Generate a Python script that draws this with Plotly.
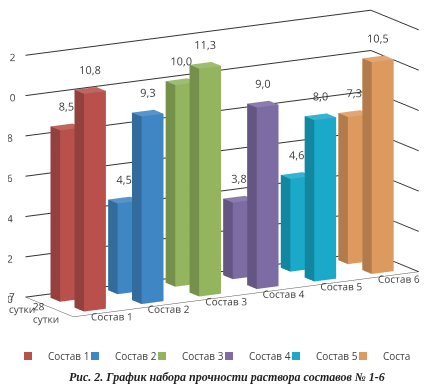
import plotly.graph_objects as go

categories = ["Состав 1", "Состав 2", "Состав 3", "Состав 4", "Состав 5", "Состав 6"]
depth_labels = ["28<br>сутки", "7<br>сутки"]
day7 = [8.5, 4.5, 10.0, 3.8, 4.6, 7.3]
day28 = [10.8, 9.3, 11.3, 9.0, 8.0, 10.5]
colors = ["#B9504C", "#3F86C4", "#92B55E", "#7D6BA4", "#1AA9C9", "#DE9A5E"]
value_ticks = [0, 2, 4, 6, 8, 10, 12]


def shade(hexc, f):
    r, g, b = int(hexc[1:3], 16), int(hexc[3:5], 16), int(hexc[5:7], 16)
    if f < 1:
        r, g, b = int(r * f), int(g * f), int(b * f)
    else:
        r, g, b = [int(c + (255 - c) * (f - 1)) for c in (r, g, b)]
    return f"rgb({r},{g},{b})"


def box(xc, yc, h, color, hw=0.19, hd=0.2):
    x0, x1, y0, y1 = xc - hw, xc + hw, yc - hd, yc + hd
    xs = [x0, x1, x1, x0, x0, x1, x1, x0]
    ys = [y0, y0, y1, y1, y0, y0, y1, y1]
    zs = [0, 0, 0, 0, h, h, h, h]
    tri = [(0, 1, 2), (0, 2, 3), (4, 5, 6), (4, 6, 7), (0, 1, 5), (0, 5, 4),
           (3, 2, 6), (3, 6, 7), (0, 3, 7), (0, 7, 4), (1, 2, 6), (1, 6, 5)]
    fc = [shade(color, 0.8)] * 2 + [shade(color, 1.12)] * 2 + [color] * 2 + \
         [color] * 2 + [shade(color, 0.8)] * 2 + [shade(color, 0.8)] * 2
    return go.Mesh3d(x=xs, y=ys, z=zs, i=[t[0] for t in tri], j=[t[1] for t in tri],
                     k=[t[2] for t in tri], facecolor=fc, flatshading=True,
                     lighting=dict(ambient=1, diffuse=0, specular=0, roughness=1, fresnel=0),
                     hoverinfo="skip", showlegend=False)


fig = go.Figure()
for i in range(len(categories)):
    fig.add_trace(box(i, 1, day7[i], colors[i]))
    fig.add_trace(box(i, 0, day28[i], colors[i]))

fmt = lambda v: f"{v:.1f}".replace(".", ",")
xs, ys, zs, tx = [], [], [], []
for i in range(len(categories)):
    xs += [i, i]
    ys += [1, 0]
    zs += [day7[i] + 0.2, day28[i] + 0.2]
    tx += [fmt(day7[i]), fmt(day28[i])]
fig.add_trace(go.Scatter3d(x=xs, y=ys, z=zs, text=tx, mode="text", textposition="top center",
                           textfont=dict(size=11, color="#404040", family="Open Sans"),
                           hoverinfo="skip", showlegend=False))

for i, c in enumerate(categories):
    fig.add_trace(go.Scatter(x=[None], y=[None], mode="markers", name=c,
                             marker=dict(symbol="square", size=8, color=colors[i])))

axis_common = dict(showbackground=False, showspikes=False, title=dict(text=""), tickangle=0,
                   tickfont=dict(size=11, color="#404040", family="Open Sans"))
fig.update_layout(
    width=437, height=391,
    margin=dict(l=0, r=0, t=0, b=0),
    paper_bgcolor="white", plot_bgcolor="white",
    font=dict(family="Open Sans", color="#404040"),
    xaxis=dict(visible=False), yaxis=dict(visible=False),
    scene=dict(
        domain=dict(x=[0, 1], y=[0.14, 1]),
        xaxis=dict(range=[-0.5, 5.5], tickvals=list(range(6)), ticktext=categories,
                   showgrid=False, showline=True, linecolor="#555", zeroline=False, **axis_common),
        yaxis=dict(range=[-0.5, 1.5], tickvals=[0, 1], ticktext=depth_labels,
                   showgrid=False, showline=True, linecolor="#555", zeroline=False, **axis_common),
        zaxis=dict(range=[0, 12], tickvals=value_ticks, showgrid=True, gridcolor="#333",
                   showticklabels=True, showline=False, zeroline=False, **axis_common),
        aspectmode="manual", aspectratio=dict(x=2.36, y=0.58, z=1.48),
        camera=dict(eye=dict(x=-0.94, y=-1.72, z=0.39), center=dict(x=0.03, y=0, z=-0.08),
                    projection=dict(type="orthographic")),
    ),
    legend=dict(orientation="h", x=0.0, xanchor="left", y=0.11, yanchor="middle",
                font=dict(size=10, color="#404040"), itemwidth=30, entrywidth=22,
                bgcolor="rgba(0,0,0,0)"),
    annotations=[dict(text="<b><i>Рис. 2. График набора прочности раствора составов № 1-6</i></b>",
                      x=0.5, y=0.055, xref="paper", yref="paper", xanchor="center", yanchor="middle",
                      showarrow=False, font=dict(family="Liberation Serif", size=12, color="#222"))],
)
fig.write_html("out.html")
